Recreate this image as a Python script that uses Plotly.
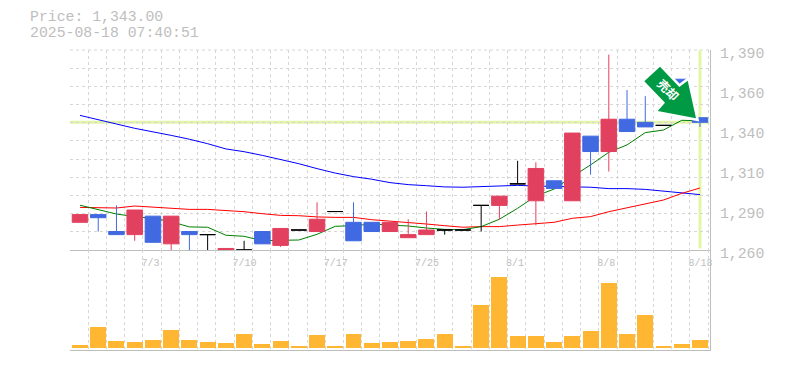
import plotly.graph_objects as go

# ---- data ----
dates = ["6/27","6/30","7/1","7/2","7/3","7/4","7/7","7/8","7/9","7/10","7/11","7/14","7/15","7/16","7/17","7/18","7/22","7/23","7/24","7/25",
         "7/28","7/29","7/30","7/31","8/1","8/4","8/5","8/6","8/7","8/8","8/12","8/13","8/14","8/15","8/18"]
opens  = [1278,1283,1272,1270,1282,1264,1272,1270,1258,1260,1272,1263,1273,1272,1285,1278,1278,1272,1268,1270,
          1273,1273,1289,1289,1303,1292,1305,1292,1334,1324,1345,1343,1341,1371,1346]
highs  = [1283,1283,1289,1286,1282,1282,1272,1270,1261,1266,1272,1274,1273,1291,1285,1291,1278,1278,1280,1285,
          1273,1273,1289,1295,1318,1317,1305,1336,1334,1387,1364,1360,1341,1371,1346]
lows   = [1278,1272,1270,1266,1265,1255,1255,1255,1258,1260,1264,1262,1273,1272,1285,1266,1272,1272,1268,1270,
          1270,1273,1272,1280,1303,1276,1300,1292,1309,1311,1337,1340,1341,1352,1340]
closes = [1283,1281,1270,1286,1265,1282,1270,1270,1261,1260,1264,1274,1273,1280,1285,1266,1272,1278,1270,1273,
          1273,1273,1289,1295,1303,1313,1300,1336,1324,1345,1337,1340,1341,1352,1343]
ma_short = [1289.1,1286,1283.4,1281.7,1280.6,1278.4,1275,1274.8,1269.6,1268.9,1266,1266.3,1266.5,1270.2,1275.4,1275.8,1276.9,1276.2,1275.6,1274.3,
            1273.4,1273.2,1275.2,1280,1287.1,1295.1,1299.6,1307.7,1315.3,1323.5,1328.3,1336.3,1338,1344.3,1344]
ma_mid = [1287.7,1287.7,1287.3,1288.6,1287.8,1287.1,1286.4,1286.4,1285.6,1284.9,1283.6,1282.5,1282.3,1281.5,1281.2,1281.2,1279.7,1278.9,1278,1276.9,
          1275.8,1274.8,1275.2,1275.2,1276.2,1277.3,1278,1280.6,1281.7,1284.9,1287.5,1289.9,1292.5,1296.8,1300.3]
ma_long = [1347.5,1344.5,1341.9,1339.1,1336.9,1334.5,1332,1329.1,1325.7,1323.9,1321.5,1319,1316.1,1312.9,1310,1307.7,1306,1303.8,1302.5,1301.8,
           1301,1300.8,1301.2,1302,1302,1301.6,1301.2,1300.8,1300.8,1299.9,1299.9,1299.4,1298.2,1297.2,1296]
volumes = [3,21,7,6,8,18,8,6,5,14,4,7,2,13,2,14,5,6,7,9,14,2,43,71,12,12,6,12,17,65,14,33,2,4,8]
x_label_dates = ["7/3","7/10","7/17","7/25","8/1","8/8","8/18"]
y_tick_values = [1260,1286,1312,1338,1364,1390]
y_tick_labels = ["1,260","1,290","1,310","1,340","1,360","1,390"]
price_text = "Price: 1,343.00"
time_text = "2025-08-18 07:40:51"
last_price = 1343

W, H = 785, 370
L, R, T, B = 70, 710, 50, 350
GRAY = "#BEBEBE"
GRID = "#D6D6D6"
PALE = "#E3F6A8"
UP, DOWN = "#E2405F", "#4169E1"
MONO = "Liberation Mono"
PX = 640 / 35.098

idx = list(range(len(dates)))
def px(x): return (x - L) / (R - L)
def py(y): return (B - y) / (B - T)

doji = [i for i in idx if opens[i] == closes[i]]
body = [i for i in idx if opens[i] != closes[i]]
def pick(a, ids): return [a[i] for i in ids]

fig = go.Figure()
fig.add_bar(x=idx, y=volumes, width=0.875, marker=dict(color="#FFB733", line_width=0), xaxis="x2", yaxis="y2", showlegend=False)
for vals, col in ((ma_long, "#0000FF"), (ma_mid, "#FF0000"), (ma_short, "#008000")):
    fig.add_scatter(x=idx, y=vals, mode="lines", line=dict(color=col, width=1), xaxis="x", yaxis="y", showlegend=False)

fig.add_candlestick(x=body, open=pick(opens, body), high=pick(highs, body), low=pick(lows, body), close=pick(closes, body),
                    increasing=dict(line=dict(color=UP, width=1), fillcolor=UP),
                    decreasing=dict(line=dict(color=DOWN, width=1), fillcolor=DOWN),
                    whiskerwidth=0, xaxis="x3", yaxis="y3", showlegend=False)
fig.add_candlestick(x=doji, open=pick(opens, doji), high=pick(highs, doji), low=pick(lows, doji), close=pick(closes, doji),
                    increasing=dict(line=dict(color="#000000", width=1), fillcolor="#000000"),
                    decreasing=dict(line=dict(color="#000000", width=1), fillcolor="#000000"),
                    whiskerwidth=0, xaxis="x3", yaxis="y3", showlegend=False)

xr = [-0.548, 34.55]
grid_minor = dict(showgrid=True, griddash="3px,3px", gridcolor=GRID, gridwidth=1, tick0=0.45, dtick=1, ticks="")
tickpos = [dates.index(d) + (3.0 * len(d) - 11.5) / PX for d in x_label_dates]

arrow_pts = [(660, 66.7), (679.3, 87), (687.7, 80.7), (696, 118.3), (657.7, 111), (665, 102.7), (644.3, 81.3)]
arrow_path = "M " + " L ".join(f"{px(a):.5f} {py(b):.5f}" for a, b in arrow_pts) + " Z"

fig.update_layout(
    template=None,
    width=W, height=H, autosize=False,
    margin=dict(l=L, r=W - R, t=T, b=H - B, pad=0),
    paper_bgcolor="white", plot_bgcolor="white", boxgap=0.15, boxgroupgap=0, bargap=0,
    showlegend=False, font=dict(family=MONO, color=GRAY),
    xaxis=dict(domain=[0, 1], range=xr, anchor="y", showgrid=False, zeroline=False, rangeslider=dict(visible=False), automargin=False,
               showline=True, linecolor=GRAY, linewidth=1,
               tickmode="array", tickvals=tickpos, ticktext=x_label_dates, ticks="", ticklabelstandoff=3,
               tickfont=dict(family=MONO, size=10, color=GRAY), tickangle=0, minor=grid_minor),
    xaxis2=dict(domain=[0, 1], range=xr, anchor="y2", showgrid=False, zeroline=False, showline=True, linecolor=GRAY, automargin=False,
                linewidth=1, showticklabels=False, ticks="", tickmode="array", tickvals=[], minor=grid_minor),
    xaxis3=dict(range=xr, overlaying="x", anchor="y3", visible=False, automargin=False, rangeslider=dict(visible=False)),
    yaxis=dict(domain=[1 / 3, 1], range=[1260, 1390], anchor="x", side="right", showgrid=False, zeroline=False, automargin=False,
               showline=True, linecolor=GRAY, linewidth=1,
               tickmode="array", tickvals=y_tick_values, ticktext=y_tick_labels, ticks="", ticklabelstandoff=6,
               ticklabelshift=3, tickfont=dict(family=MONO, size=14.8, color=GRAY),
               minor=dict(showgrid=True, griddash="3px,3px", gridcolor=GRID, gridwidth=1, tick0=1260, dtick=130 / 11, ticks="")),
    yaxis2=dict(domain=[0, 1 / 3], range=[-2, 98], anchor="x2", side="right", showgrid=False, zeroline=False, automargin=False,
                showline=True, linecolor=GRAY, linewidth=1, showticklabels=False, ticks=""),
    yaxis3=dict(domain=[1 / 3, 1], range=[1260, 1390], overlaying="y", anchor="x3", visible=False, automargin=False),
    shapes=[
        dict(type="line", layer="below", xref="paper", yref="paper", x0=0, x1=1, y0=1, y1=1, line=dict(color=GRID, width=1, dash="3px,3px")),
        dict(type="line", layer="below", xref="x", yref="y", x0=xr[0], x1=34.5, y0=last_price, y1=last_price, line=dict(color=PALE, width=3)),
        dict(type="line", layer="below", xref="x", yref="y", x0=34, x1=34, y0=1261, y1=1390, line=dict(color=PALE, width=3)),
        dict(type="path", layer="above", xref="paper", yref="paper", path=arrow_path, fillcolor="white", line=dict(color="white", width=5)),
        dict(type="path", layer="above", xref="paper", yref="paper", path=arrow_path, fillcolor="#009944", line=dict(width=0)),
    ],
    annotations=[
        dict(text=price_text, xref="paper", yref="paper", x=px(28), y=py(17), xanchor="left", yanchor="middle", showarrow=False,
             font=dict(family=MONO, size=14.8, color=GRAY)),
        dict(text=time_text, xref="paper", yref="paper", x=px(28), y=py(33), xanchor="left", yanchor="middle", showarrow=False,
             font=dict(family=MONO, size=14.8, color=GRAY)),
        dict(text="<b>売却</b>", xref="paper", yref="paper", x=px(669), y=py(89), xanchor="center", yanchor="middle", textangle=45, showarrow=False,
             font=dict(family="Noto Sans CJK JP", size=12, color="#FFFFFF")),
    ],
)
fig.write_html("out.html", config={"displayModeBar": False}, post_script="document.body.style.margin='0';")
